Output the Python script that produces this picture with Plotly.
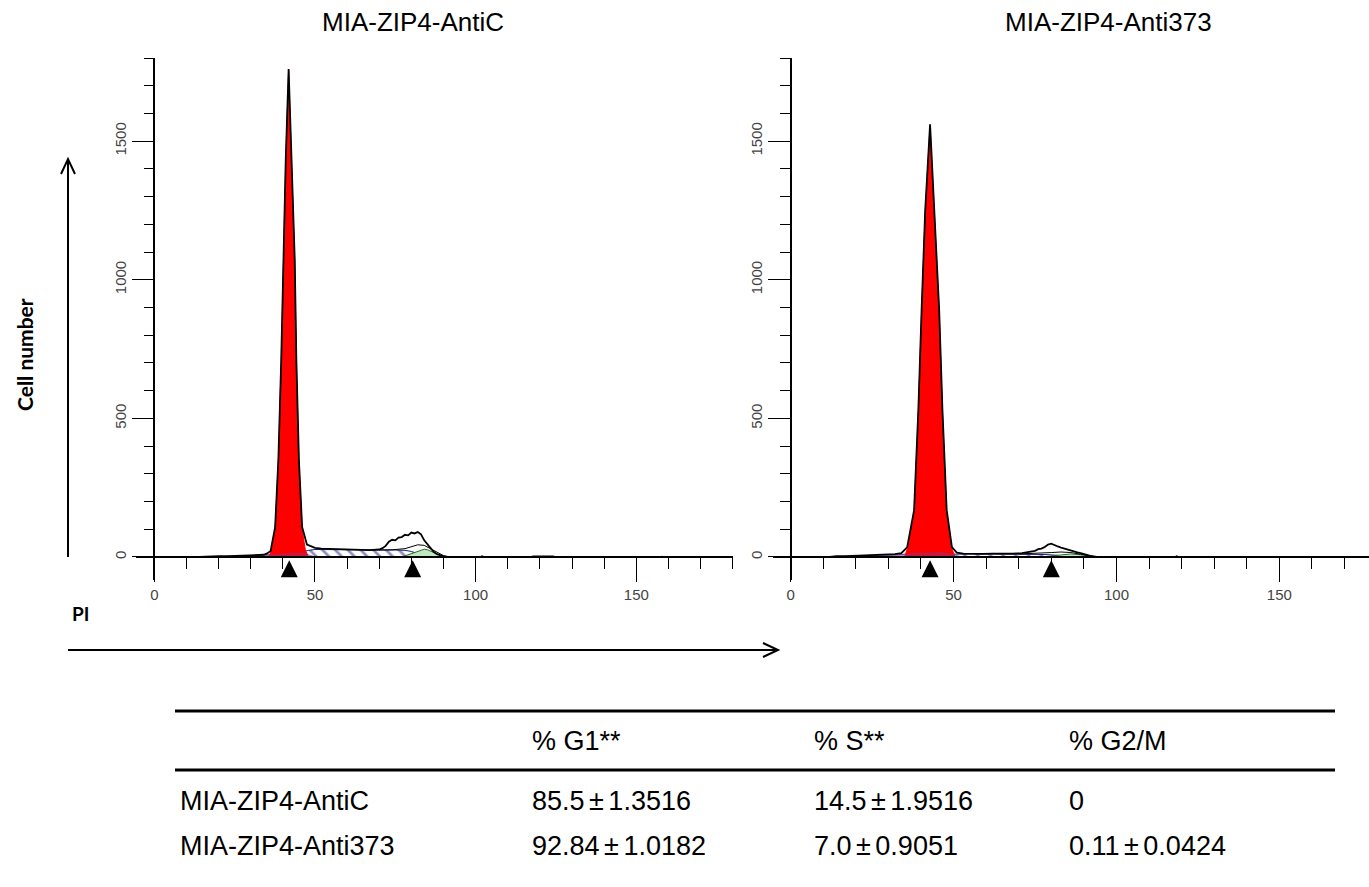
import plotly.graph_objects as go

W, H = 1369, 887

# ---------------- data: MIA-ZIP4-AntiC (left) ----------------
hist_a_x = [14, 17, 20, 23, 26, 29, 32, 34, 35, 36.2, 37.6, 38.6, 39.5, 40.2, 40.9, 41.8, 42.7, 43.7, 44.2, 45.0,
            46.0, 47.5, 48.5, 49, 50, 52, 55, 58, 61, 64, 67, 70, 71, 72, 73, 74, 75, 76, 77, 78,
            79, 80, 81, 82, 83, 84, 85, 86, 87, 88, 89, 90, 91]
hist_a_y = [0, 2, 3, 3, 4, 5, 6, 8, 12, 22, 108, 350, 712, 1073, 1435, 1760, 1435, 1073, 712, 350,
            108, 45, 40, 38, 33, 30, 29, 28, 27, 26, 25, 27, 32, 40, 55, 62, 60, 70, 72, 80,
            78, 88, 85, 90, 82, 60, 45, 30, 18, 10, 5, 2, 0]
g1_a_x = [35.5, 36.2, 37.6, 38.6, 39.5, 40.2, 40.9, 41.8, 42.7, 43.7, 44.2, 45.0, 46.0, 47.0, 48.0]
g1_a_y = [0, 15, 105, 345, 705, 1065, 1430, 1755, 1430, 1065, 705, 345, 100, 25, 0]
s_a_x = [40, 43, 46, 48, 50, 55, 60, 65, 70, 75, 78, 80, 82, 84, 86]
s_a_y = [0, 6, 18, 24, 27, 27, 26, 26, 25, 25, 24, 20, 12, 5, 0]
g2_a_x = [77, 79, 81, 83, 84, 85, 87, 89, 91]
g2_a_y = [0, 8, 18, 26, 28, 26, 16, 6, 0]
deb_a_x = [18, 24, 30, 34, 38, 42, 46, 48, 50]
deb_a_y = [0, 2, 4, 6, 9, 12, 13, 8, 0]
fit_a_x = [70, 74, 78, 80, 82, 84, 86, 88, 90, 92]
fit_a_y = [25, 26, 30, 38, 44, 42, 30, 15, 5, 0]
tail_a_x = [101.5, 102, 102.5, None, 117, 118, 124, 125, None, 157.5, 158, 158.5]
tail_a_y = [0, 3, 0, None, 0, 3, 3, 0, None, 0, 2, 0]
marks_a = [42, 80.4]

# ---------------- data: MIA-ZIP4-Anti373 (right) ----------------
hist_b_x = [12, 14, 17, 20, 23, 26, 29, 32, 34, 35.8, 37.9, 39.2, 40.2, 41.3, 42.8, 44.2, 45.6, 46.6, 47.9, 49.5,
            51, 53, 56, 59, 62, 65, 68, 71, 73, 75, 76, 77, 78, 79, 80, 81, 82, 83, 84, 85,
            86, 87, 88, 89, 90, 91, 92, 93, 94]
hist_b_y = [0, 3, 3, 4, 5, 6, 8, 10, 14, 36, 169, 529, 889, 1249, 1561, 1249, 889, 529, 169, 36,
            16, 12, 11, 11, 12, 11, 12, 14, 17, 22, 28, 30, 36, 45, 48, 42, 38, 34, 30, 27,
            24, 20, 17, 14, 10, 7, 4, 2, 0]
g1_b_x = [35.0, 35.8, 37.9, 39.2, 40.2, 41.3, 42.8, 44.2, 45.6, 46.6, 47.9, 49.5, 50.5]
g1_b_y = [0, 30, 165, 525, 885, 1245, 1555, 1245, 885, 525, 165, 30, 0]
s_b_x = [40, 44, 47, 50, 55, 60, 65, 70, 75, 78, 82, 86, 90]
s_b_y = [0, 4, 8, 10, 11, 11, 11, 11, 10, 9, 6, 3, 0]
g2_b_x = [77, 80, 83, 86, 89, 92, 94]
g2_b_y = [0, 3, 8, 11, 8, 3, 0]
deb_b_x = [14, 18, 24, 30, 34, 38, 42, 46, 50, 53]
deb_b_y = [0, 3, 4, 6, 9, 12, 14, 15, 8, 0]
fit_b_x = [70, 74, 78, 80, 83, 86, 89, 92, 94]
fit_b_y = [11, 12, 14, 16, 18, 16, 10, 4, 0]
tail_b_x = [118, 118.5, 119]
tail_b_y = [0, 3, 0]
marks_b = [42.8, 80]

titles = ["MIA-ZIP4-AntiC", "MIA-ZIP4-Anti373"]
x_ticks = [0, 50, 100, 150]
y_ticks = [0, 500, 1000, 1500]

# ---------------- table ----------------
PM = "\u2006\u00b1\u2006"
tbl_header = ["", "% G1**", "% S**", "% G2/M"]
tbl_rows = [
    ["MIA-ZIP4-AntiC", "85.5" + PM + "1.3516", "14.5" + PM + "1.9516", "0"],
    ["MIA-ZIP4-Anti373", "92.84" + PM + "1.0182", "7.0" + PM + "0.9051", "0.11" + PM + "0.0424"],
]

FONT = "Liberation Sans"


def px(x):
    return x / W


def py(y):
    return 1 - y / H


fig = go.Figure()


def add_panel(xr, yr, hx, hy, gx, gy, sx, sy, g2x, g2y, dx, dy, fx, fy, tx, ty, marks):
    kw = dict(xaxis=xr, yaxis=yr, showlegend=False, hoverinfo="skip")
    # debris (lavender)
    fig.add_trace(go.Scatter(x=dx, y=dy, mode="lines", fill="tozeroy",
                             fillcolor="#c9c6ee", line=dict(color="#6a5aa8", width=1), **kw))
    # S phase (hatched)
    fig.add_trace(go.Scatter(x=sx, y=sy, mode="lines", fill="tozeroy",
                             fillpattern=dict(shape="\\", fgcolor="#1b1b7a", bgcolor="white",
                                              size=9, solidity=0.3),
                             line=dict(color="#1b1b7a", width=1), **kw))
    # G2 (green)
    fig.add_trace(go.Scatter(x=g2x, y=g2y, mode="lines", fill="tozeroy",
                             fillcolor="#bfe8c0", line=dict(color="#2a6a2a", width=1), **kw))
    # G1 (red)
    fig.add_trace(go.Scatter(x=gx, y=gy, mode="lines", fill="tozeroy",
                             fillcolor="#ff0000", line=dict(color="#ff0000", width=1), **kw))
    # debris overlay on red
    fig.add_trace(go.Scatter(x=dx, y=dy, mode="lines", fill="tozeroy",
                             fillcolor="rgba(120,60,150,0.35)", line=dict(color="rgba(120,60,150,0.6)", width=1), **kw))
    # fitted sum line
    fig.add_trace(go.Scatter(x=fx, y=fy, mode="lines", line=dict(color="black", width=1), **kw))
    # histogram outline
    fig.add_trace(go.Scatter(x=hx, y=hy, mode="lines", line=dict(color="black", width=1.8), **kw))
    fig.add_trace(go.Scatter(x=tx, y=ty, mode="lines", line=dict(color="black", width=1.5), **kw))
    # peak markers
    fig.add_trace(go.Scatter(x=marks, y=[-12] * len(marks), mode="markers",
                             marker=dict(symbol="arrow-up", size=17, color="black",
                                         line=dict(width=0)), **kw))


add_panel("x", "y", hist_a_x, hist_a_y, g1_a_x, g1_a_y, s_a_x, s_a_y, g2_a_x, g2_a_y,
          deb_a_x, deb_a_y, fit_a_x, fit_a_y, tail_a_x, tail_a_y, marks_a)
add_panel("x2", "y2", hist_b_x, hist_b_y, g1_b_x, g1_b_y, s_b_x, s_b_y, g2_b_x, g2_b_y,
          deb_b_x, deb_b_y, fit_b_x, fit_b_y, tail_b_x, tail_b_y, marks_b)

tickfont = dict(family=FONT, size=15, color="#444")


def xaxis(domain, rng):
    return dict(domain=domain, range=rng, anchor="free", position=py(557),
                showline=True, linecolor="black", linewidth=1.5,
                ticks="outside", ticklen=24, tickwidth=1, tickcolor="black",
                tickvals=x_ticks, ticktext=[str(v) for v in x_ticks],
                minor=dict(dtick=10, tick0=0, ticks="outside", ticklen=11, tickwidth=1,
                           tickcolor="black", showgrid=False),
                showgrid=False, zeroline=False, tickfont=tickfont, fixedrange=True)


def yaxis(pos):
    return dict(domain=[py(580), py(58)], range=[-83, 1800], anchor="free", position=pos,
                showline=True, linecolor="black", linewidth=1.5,
                ticks="outside", ticklen=22, tickwidth=1, tickcolor="black",
                tickvals=y_ticks, ticktext=[str(v) for v in y_ticks], tickangle=-90,
                minor=dict(dtick=100, tick0=0, ticks="outside", ticklen=10, tickwidth=1,
                           tickcolor="black", showgrid=False),
                showgrid=False, zeroline=False, tickfont=tickfont, fixedrange=True)


shapes = []
annotations = []

# titles
for t, cx in zip(titles, [413, 1108]):
    annotations.append(dict(text=t, x=px(cx), y=py(22), xref="paper", yref="paper",
                            showarrow=False, xanchor="center", yanchor="middle",
                            font=dict(family=FONT, size=26, color="black")))

# axis captions
annotations.append(dict(text="<b>Cell number</b>", x=px(25), y=py(355), xref="paper", yref="paper",
                        showarrow=False, textangle=-90, xanchor="center", yanchor="middle",
                        font=dict(family="Lato", size=21, color="black")))
annotations.append(dict(text="<b>PI</b>", x=px(80), y=py(613), xref="paper", yref="paper",
                        showarrow=False, xanchor="center", yanchor="middle",
                        font=dict(family="Lato", size=19, color="black")))

# arrows
line_style = dict(color="black", width=2)
shapes.append(dict(type="line", xref="paper", yref="paper", x0=px(68), y0=py(557), x1=px(68), y1=py(159),
                   line=line_style))
shapes.append(dict(type="path", xref="paper", yref="paper",
                   path=f"M{px(61)},{py(174)} L{px(68)},{py(159)} L{px(75)},{py(174)}", line=line_style))
shapes.append(dict(type="line", xref="paper", yref="paper", x0=px(68), y0=py(650), x1=px(778), y1=py(650),
                   line=line_style))
shapes.append(dict(type="path", xref="paper", yref="paper",
                   path=f"M{px(763)},{py(643)} L{px(778)},{py(650)} L{px(763)},{py(657)}", line=line_style))

# table
for yy in [711, 770]:
    shapes.append(dict(type="line", xref="paper", yref="paper", x0=px(175), y0=py(yy), x1=px(1335), y1=py(yy),
                       line=dict(color="black", width=3)))
col_x = [178, 530, 812, 1067]
row_y = [741, 801, 846]
for r, row in enumerate([tbl_header] + tbl_rows):
    for c, cell in enumerate(row):
        if not cell:
            continue
        annotations.append(dict(text=cell, x=px(col_x[c]), y=py(row_y[r]), xref="paper", yref="paper",
                                showarrow=False, xanchor="left", yanchor="middle",
                                font=dict(family=FONT, size=27, color="black")))

fig.update_layout(
    width=W, height=H, margin=dict(l=0, r=0, t=0, b=0),
    paper_bgcolor="white", plot_bgcolor="white",
    xaxis=xaxis([px(136), px(732.7)], [-5.7, 180]),
    yaxis=yaxis(px(154.3)),
    xaxis2=xaxis([px(773), 1.0], [-5.4, 177.5]),
    yaxis2=yaxis(px(790.5)),
    shapes=shapes, annotations=annotations,
)

fig.write_html("out.html")
